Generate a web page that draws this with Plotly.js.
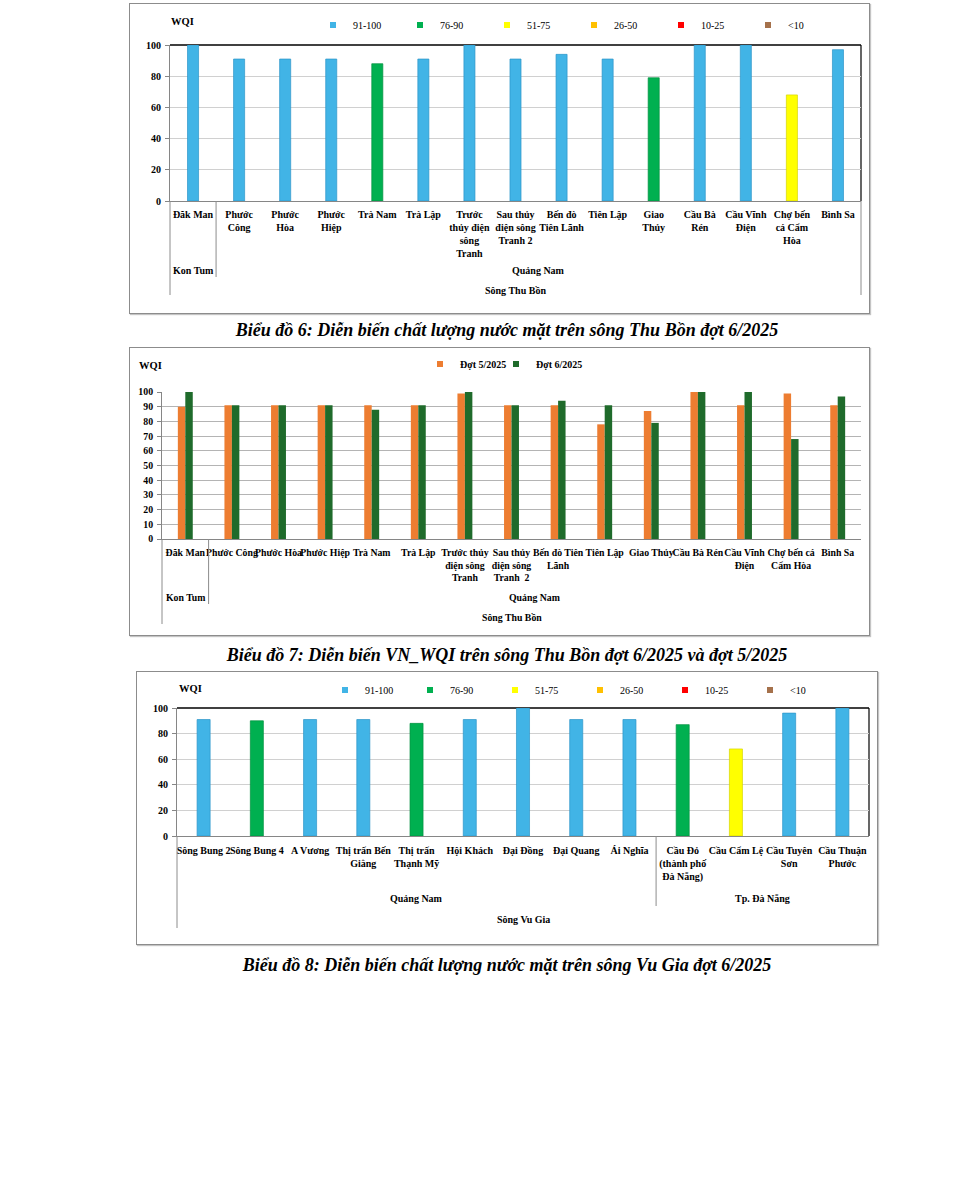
<!DOCTYPE html>
<html>
<head>
<meta charset="utf-8">
<script src="https://cdn.plot.ly/plotly-3.0.1.min.js"></script>
<style>
html,body{margin:0;padding:0;background:#fff;}
body{width:977px;height:1200px;position:relative;overflow:hidden;}
.box{position:absolute;border:1px solid #8c8c8c;box-shadow:1px 1px 1px #c4c4c4;background:#fff;}
.cap{position:absolute;width:740px;text-align:center;font-family:'Liberation Serif','Times New Roman',serif;font-weight:bold;font-style:italic;font-size:18px;line-height:20px;color:#000;white-space:nowrap;}
</style>
</head>
<body>
<div class="box" id="chart6" style="left:129px;top:3px;width:739px;height:309px"></div>
<div class="cap" style="left:137px;top:320px">Biểu đồ 6: Diễn biến chất lượng nước mặt trên sông Thu Bồn đợt 6/2025</div>
<div class="box" id="chart7" style="left:129px;top:347px;width:739px;height:287px"></div>
<div class="cap" style="left:137px;top:645px">Biểu đồ 7: Diễn biến VN_WQI trên sông Thu Bồn đợt 6/2025 và đợt 5/2025</div>
<div class="box" id="chart8" style="left:136px;top:671px;width:740px;height:272px"></div>
<div class="cap" style="left:137px;top:955px">Biểu đồ 8: Diễn biến chất lượng nước mặt trên sông Vu Gia đợt 6/2025</div>

<script>
// ---------------- DATA ----------------
// WQI classes
const classLabels = ['91-100', '76-90', '51-75', '26-50', '10-25', '<10'];
const classMin = [91, 76, 51, 26, 10, 0];

// Chart 6 / 7 : Sông Thu Bồn
const stations6 = ['Đăk Man', 'Phước Công', 'Phước Hòa', 'Phước Hiệp', 'Trà Nam', 'Trà Lập',
  'Trước thủy điện sông Tranh', 'Sau thủy điện sông Tranh 2', 'Bến đò Tiên Lãnh', 'Tiên Lập',
  'Giao Thủy', 'Cầu Bà Rén', 'Cầu Vĩnh Điện', 'Chợ bến cá Cẩm Hòa', 'Bình Sa'];
const tickLabels6 = ['Đăk Man', 'Phước<br>Công', 'Phước<br>Hòa', 'Phước<br>Hiệp', 'Trà Nam', 'Trà Lập',
  'Trước<br>thủy điện<br>sông<br>Tranh', 'Sau thủy<br>điện sông<br>Tranh 2', 'Bến đò<br>Tiên Lãnh', 'Tiên Lập',
  'Giao<br>Thủy', 'Cầu Bà<br>Rén', 'Cầu Vĩnh<br>Điện', 'Chợ bến<br>cá Cẩm<br>Hòa', 'Bình Sa'];
const tickLabels7 = ['Đăk Man', 'Phước Công', 'Phước Hòa', 'Phước Hiệp', 'Trà Nam', 'Trà Lập',
  'Trước thủy<br>điện sông<br>Tranh', 'Sau thủy<br>điện sông<br>Tranh  2', 'Bến đò Tiên<br>Lãnh', 'Tiên Lập',
  'Giao Thủy', 'Cầu Bà Rén', 'Cầu Vĩnh<br>Điện', 'Chợ bến cá<br>Cẩm Hòa', 'Bình Sa'];
const wqiJune6 = [100, 91, 91, 91, 88, 91, 100, 91, 94, 91, 79, 100, 100, 68, 97];
const wqiMay7 = [90, 91, 91, 91, 91, 91, 99, 91, 91, 78, 87, 100, 91, 99, 91];
const seriesNames7 = ['Đợt 5/2025', 'Đợt 6/2025'];
const provinces6 = ['Kon Tum', 'Quảng Nam'];
const provinceCounts6 = [1, 14];
const river6 = 'Sông Thu Bồn';

// Chart 8 : Sông Vu Gia
const stations8 = ['Sông Bung 2', 'Sông Bung 4', 'A Vương', 'Thị trấn Bến Giằng', 'Thị trấn Thạnh Mỹ',
  'Hội Khách', 'Đại Đồng', 'Đại Quang', 'Ái Nghĩa', 'Cầu Đỏ (thành phố Đà Nẵng)', 'Cầu Cẩm Lệ',
  'Cầu Tuyên Sơn', 'Cầu Thuận Phước'];
const tickLabels8 = ['Sông Bung 2', 'Sông Bung 4', 'A Vương', 'Thị trấn Bến<br>Giằng', 'Thị trấn<br>Thạnh Mỹ',
  'Hội Khách', 'Đại Đồng', 'Đại Quang', 'Ái Nghĩa', 'Cầu Đỏ<br>(thành phố<br>Đà Nẵng)', 'Cầu Cẩm Lệ',
  'Cầu Tuyên<br>Sơn', 'Cầu Thuận<br>Phước'];
const wqi8 = [91, 90, 91, 91, 88, 91, 100, 91, 91, 87, 68, 96, 100];
const provinces8 = ['Quảng Nam', 'Tp. Đà Nẵng'];
const provinceCounts8 = [9, 4];
const river8 = 'Sông Vu Gia';

// ---------------- STYLE ----------------
const FONT = 'Liberation Serif, Times New Roman, serif';
const classColors = ['#41b4e6', '#00b050', '#ffff00', '#ffc000', '#ff0000', '#a5714b'];
const classEdges = ['#2c95c8', '#00903f', '#d6d600', '#d9a000', '#cc0000', '#7d5232'];
const seriesColors7 = ['#ed7d31', '#1f6b2b'];
const cfg = {staticPlot: true};

function groupDecor(provNames, provCounts, river, provShift, riverShift, dividerLen, edgeLen, rightEdge) {
  const ann = [], shp = [];
  let start = 0;
  provNames.forEach((p, i) => {
    const c = provCounts[i];
    ann.push({xref: 'x', yref: 'paper', x: start + (c - 1) / 2, y: 0, yshift: provShift,
      text: p, showarrow: false, xanchor: 'center', yanchor: 'middle'});
    if (i > 0) {
      shp.push({type: 'line', xref: 'x', yref: 'paper', x0: start - 0.5, x1: start - 0.5,
        ysizemode: 'pixel', yanchor: 0, y0: 0, y1: -dividerLen, line: {color: '#8c8c8c', width: 1}});
    }
    start += c;
  });
  ann.push({xref: 'paper', yref: 'paper', x: 0.5, y: 0, yshift: riverShift, text: river,
    showarrow: false, xanchor: 'center', yanchor: 'middle'});
  shp.push({type: 'line', xref: 'paper', yref: 'paper', x0: 0, x1: 0, ysizemode: 'pixel', yanchor: 0,
    y0: 0, y1: -edgeLen, line: {color: '#8c8c8c', width: 1}});
  if (rightEdge) {
    shp.push({type: 'line', xref: 'paper', yref: 'paper', x0: 1, x1: 1, ysizemode: 'pixel', yanchor: 0,
      y0: 0, y1: -edgeLen, line: {color: '#8c8c8c', width: 1}});
  }
  return {ann, shp};
}

function classChart(divId, g) {
  const cls = g.values.map(v => classMin.findIndex(m => v >= m));
  const traces = [];
  classLabels.forEach((lab, k) => {
    traces.push({type: 'bar', x: g.cats, y: g.values.map((v, i) => cls[i] === k ? v : null),
      width: g.barWidth, showlegend: false, name: lab,
      marker: {color: classColors[k], line: {color: classEdges[k], width: 0.7}}});
  });
  classLabels.forEach((lab, k) => {
    traces.push({type: 'scatter', mode: 'markers', x: [null], y: [null], name: lab, showlegend: true,
      marker: {symbol: 'square', size: 6, color: classColors[k], line: {width: 0}}});
  });
  const d = groupDecor(g.provNames, g.provCounts, g.river, g.provShift, g.riverShift, g.dividerLen, g.edgeLen, g.rightEdge);
  d.shp.push({type: 'line', xref: 'paper', yref: 'paper', x0: 0, x1: 1, y0: 1, y1: 1, layer: 'below', line: {color: '#000', width: 1.5}});
  d.shp.push({type: 'line', xref: 'paper', yref: 'paper', x0: 1, x1: 1, y0: 0, y1: 1, layer: 'below', line: {color: '#000', width: 1.2}});
  d.ann.push({xref: 'paper', yref: 'paper', x: 0, y: 1, xanchor: 'left', yanchor: 'middle', xshift: g.wqiX, yshift: g.wqiY,
    text: 'WQI', showarrow: false, font: {size: 10.5}});
  const layout = {
    width: g.w, height: g.h, margin: g.margin,
    paper_bgcolor: '#fff', plot_bgcolor: '#fff',
    font: {family: FONT, size: g.fs, color: '#000', weight: 'bold'},
    barmode: 'overlay', showlegend: true,
    legend: {orientation: 'h', xref: 'container', yref: 'container', x: g.legX, y: g.legY,
      xanchor: 'left', yanchor: 'middle', entrywidth: g.entryW, entrywidthmode: 'pixels',
      font: {size: 10, weight: 'normal'}, bgcolor: 'rgba(0,0,0,0)', borderwidth: 0},
    xaxis: {type: 'category', tickvals: g.cats, ticktext: g.ticks, tickangle: 0, showline: true,
      linecolor: '#868686', linewidth: 1, ticks: '', showgrid: false, ticklabelstandoff: g.standoff,
      range: [-0.5, g.cats.length - 0.5], fixedrange: true},
    yaxis: {range: [0, 100], dtick: 20, showline: true, linecolor: '#868686', linewidth: 1, ticks: 'outside', ticklen: 4,
      tickcolor: '#868686', showgrid: true, gridcolor: '#d0d0d0', zeroline: false, ticklabelstandoff: 2, fixedrange: true},
    annotations: d.ann, shapes: d.shp
  };
  Plotly.newPlot(divId, traces, layout, cfg);
}

// Chart 6
classChart('chart6', {
  cats: stations6, ticks: tickLabels6, values: wqiJune6, barWidth: 0.24,
  provNames: provinces6, provCounts: provinceCounts6, river: river6,
  provShift: -69, riverShift: -89, dividerLen: 76, edgeLen: 94, rightEdge: true,
  w: 739, h: 309, margin: {l: 40, r: 8, t: 41, b: 112, pad: 0}, fs: 10, standoff: 4,
  legX: 183 / 739, legY: 1 - 21 / 309, entryW: 42, wqiX: -1, wqiY: 24
});

// Chart 8
classChart('chart8', {
  cats: stations8, ticks: tickLabels8, values: wqi8, barWidth: 0.245,
  provNames: provinces8, provCounts: provinceCounts8, river: river8,
  provShift: -62, riverShift: -83, dividerLen: 70, edgeLen: 92, rightEdge: false,
  w: 740, h: 272, margin: {l: 40, r: 8, t: 36, b: 108, pad: 0}, fs: 10, standoff: 5,
  legX: 188 / 740, legY: 1 - 18 / 272, entryW: 40, wqiX: 0, wqiY: 20
});

// Chart 7
(function () {
  const seriesVals = [wqiMay7, wqiJune6];
  const legendIds = ['legend', 'legend2'];
  const traces = [];
  seriesNames7.forEach((nm, k) => {
    traces.push({type: 'bar', x: stations6, y: seriesVals[k], name: nm, showlegend: false,
      marker: {color: seriesColors7[k], line: {width: 0}}});
  });
  seriesNames7.forEach((nm, k) => {
    traces.push({type: 'scatter', mode: 'markers', x: [null], y: [null], name: nm, showlegend: true,
      legend: legendIds[k],
      marker: {symbol: 'square', size: 6, color: seriesColors7[k], line: {width: 0}}});
  });
  const d = groupDecor(provinces6, provinceCounts6, river6, -58, -78, 65, 85, false);
  d.ann.push({xref: 'paper', yref: 'paper', x: 0, y: 1, xanchor: 'left', yanchor: 'middle', xshift: -25, yshift: 27,
    text: 'WQI', showarrow: false, font: {size: 10.5}});
  const legBase = {orientation: 'h', xref: 'container', yref: 'container', y: 1 - 16 / 287,
    xanchor: 'left', yanchor: 'middle', font: {size: 10, weight: 'bold'}, bgcolor: 'rgba(0,0,0,0)'};
  const layout = {
    width: 739, height: 287, margin: {l: 32, r: 8, t: 44, b: 96, pad: 0},
    paper_bgcolor: '#fff', plot_bgcolor: '#fff',
    font: {family: FONT, size: 9.8, color: '#000', weight: 'bold'},
    barmode: 'group', bargap: 0.68, bargroupgap: 0, showlegend: true,
    legend: Object.assign({}, legBase, {x: 290 / 739}),
    legend2: Object.assign({}, legBase, {x: 366 / 739}),
    xaxis: {type: 'category', tickvals: stations6, ticktext: tickLabels7, tickangle: 0, showline: true,
      linecolor: '#868686', ticks: '', showgrid: false, ticklabelstandoff: 4,
      range: [-0.5, stations6.length - 0.5], fixedrange: true},
    yaxis: {range: [0, 100], dtick: 10, showline: true, linecolor: '#868686', ticks: 'outside', ticklen: 4,
      tickcolor: '#868686', showgrid: true, gridcolor: '#b4b4b4', zeroline: false, ticklabelstandoff: 2, fixedrange: true},
    annotations: d.ann, shapes: d.shp
  };
  Plotly.newPlot('chart7', traces, layout, cfg);
})();
</script>
</body>
</html>
